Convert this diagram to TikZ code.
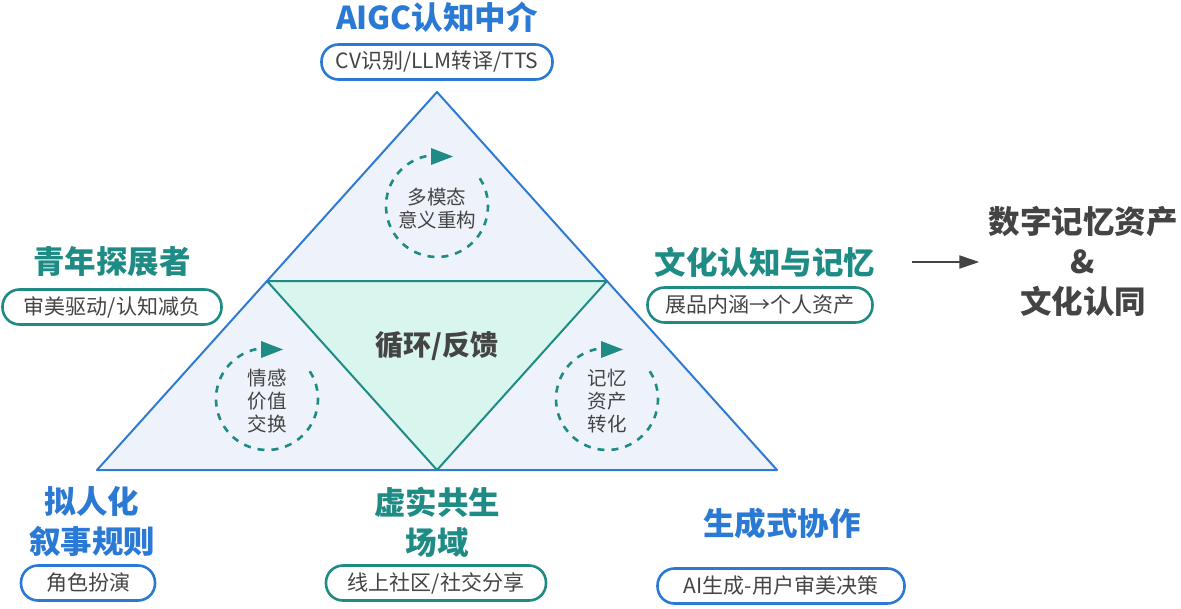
\documentclass[tikz,border=0pt]{standalone}
\usepackage{fontspec}
\setmainfont{Noto Sans CJK SC}
\usetikzlibrary{arrows.meta}
\definecolor{cblue}{HTML}{2A7AD5}
\definecolor{cteal}{HTML}{1E8B84}
\definecolor{ctxt}{HTML}{444444}
\definecolor{tribg}{HTML}{EEF2FB}
\definecolor{mint}{HTML}{D9F6EE}
\definecolor{tline}{HTML}{2F7AD3}
\begin{document}
\begin{tikzpicture}[x=1pt,y=-1pt,
  title/.style={font=\fontsize{31.5}{40}\selectfont\bfseries, align=center, inner sep=0pt},
  bluetitle/.style={title, text=cblue},
  tealtitle/.style={title, text=cteal},
  pill/.style={draw, line width=2.6pt, fill=white, rounded corners=17pt, minimum height=35pt,
    inner sep=0pt, text=ctxt, font=\fontsize{21}{24}\selectfont},
  bluepill/.style={pill, draw=cblue},
  tealpill/.style={pill, draw=cteal},
  cyc/.style={draw=cteal, line width=2.6pt, dash pattern=on 7pt off 7pt},
  cychead/.style={fill=cteal},
  ctext/.style={font=\fontsize{19.5}{23}\selectfont, text=ctxt, align=center, inner sep=0pt}]
\useasboundingbox (0,0) rectangle (1181,608);

% triangle geometry
\coordinate (A) at (437,92);
\coordinate (B) at (97,470);
\coordinate (C) at (777,470);
\coordinate (AB) at (267,281);
\coordinate (AC) at (607,281);
\coordinate (BC) at (437,470);

\fill[tribg] (A) -- (B) -- (C) -- cycle;
\draw[cteal, fill=mint, line width=2pt, line join=round] (AB) -- (AC) -- (BC) -- cycle;
\draw[tline, line width=2pt, line join=round] (A) -- (B) -- (C) -- cycle;

\node[font=\fontsize{28}{32}\selectfont\bfseries, text=ctxt] (center) at (437,346) {循环/反馈};

% cycles
\coordinate (c1) at (437,206);
\coordinate (c2) at (267,399);
\coordinate (c3) at (607,399);
\foreach \c in {c1,c2,c3}{
  \draw[cyc] (\c) ++(-33:51) arc[start angle=-33, end angle=262, radius=51];
  \fill[cychead] (\c) ++(16,-49.5) -- ++(-22,-8.5) -- ++(0,17) -- cycle;
}
\node[ctext] (t1) at (437,209) {多模态\\意义重构};
\node[ctext] (t2) at (267,401) {情感\\价值\\交换};
\node[ctext] (t3) at (607,401) {记忆\\资产\\转化};

% top
\node[bluetitle] (aigc) at (437,17) {AIGC认知中介};
\node[bluepill, minimum width=231pt] (p1) at (437,62) {CV识别/LLM转译/TTS};

% left
\node[tealtitle] (youth) at (112,262) {青年探展者};
\node[tealpill, minimum width=219pt] (p2) at (112,307) {审美驱动/认知减负};

% right
\node[tealtitle] (culture) at (765,262) {文化认知与记忆};
\node[tealpill, minimum width=225pt] (p3) at (760,305) {展品内涵→个人资产};

% bottom left
\node[bluetitle] (anthro) at (92,522) {拟人化\\叙事规则};
\node[bluepill, minimum width=134pt] (p4) at (88,583) {角色扮演};

% bottom center
\node[tealtitle] (field) at (437,522) {虚实共生\\场域};
\node[tealpill, minimum width=220pt] (p5) at (436,583) {线上社区/社交分享};

% bottom right
\node[bluetitle] (gen) at (782,523) {生成式协作};
\node[bluepill, minimum width=247pt] (p6) at (781,586) {AI生成-用户审美决策};

% result
\node[title, text=ctxt] (res) at (1083,261) {数字记忆资产\\\&\\文化认同};
\coordinate (arrs) at (912,262);
\draw[ctxt, line width=2pt, -{Triangle[length=20pt,width=13pt]}, shorten >=9pt] (arrs) -- (res.west |- arrs);
\end{tikzpicture}
\end{document}
